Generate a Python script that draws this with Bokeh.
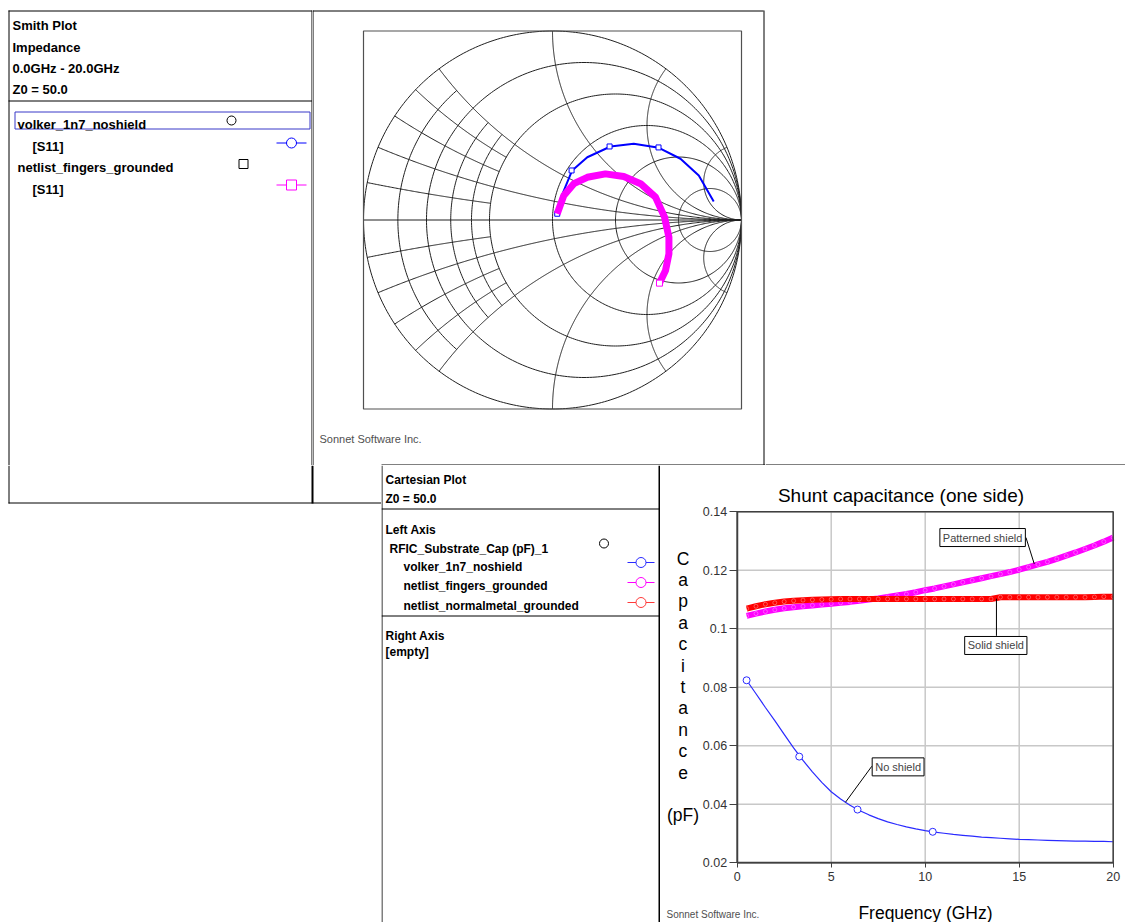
import numpy as np
from bokeh.plotting import figure
from bokeh.layouts import row, column
from bokeh.models import Range1d, Label, FixedTicker, PrintfTickFormatter, LinearAxis
from bokeh.embed import file_html
from bokeh.resources import INLINE
from bokeh.core.properties import value

# ---------------- data ----------------
smith_header = ["Smith Plot", "Impedance", "0.0GHz - 20.0GHz", "Z0 = 50.0"]
smith_files = ["volker_1n7_noshield", "netlist_fingers_grounded"]
smith_param = "[S11]"

s11_volker_re = [0.025, 0.042, 0.104, 0.184, 0.307, 0.430, 0.563, 0.677, 0.774, 0.853]
s11_volker_im = [0.033, 0.112, 0.262, 0.332, 0.389, 0.403, 0.382, 0.324, 0.235, 0.098]
s11_volker_mk_re = [0.025, 0.101, 0.302, 0.561]
s11_volker_mk_im = [0.033, 0.262, 0.389, 0.384]
s11_fingers_re = [0.025, 0.060, 0.113, 0.184, 0.280, 0.377, 0.466, 0.545, 0.593, 0.616, 0.616, 0.598, 0.566]
s11_fingers_im = [0.033, 0.130, 0.192, 0.226, 0.244, 0.230, 0.192, 0.121, 0.015, -0.091, -0.179, -0.267, -0.334]
s11_fingers_mk_re = [0.566]
s11_fingers_mk_im = [-0.334]

# Smith grid values
smith_r_full = [0.2, 0.5, 1.0, 2.0, 5.0]
smith_r_part = [0.1, 0.3, 0.4]
smith_x_full = [0.2, 0.5, 1.0, 2.0, 5.0]
smith_x_part = [0.1, 0.3, 0.4]

cart_header = ["Cartesian Plot", "Z0 = 50.0"]
cart_left = ["Left Axis", "RFIC_Substrate_Cap (pF)_1"]
cart_series = ["volker_1n7_noshield", "netlist_fingers_grounded", "netlist_normalmetal_grounded"]
cart_right = ["Right Axis", "[empty]"]
cart_title = "Shunt capacitance (one side)"
x_label = "Frequency (GHz)"
y_label_text = "C\na\np\na\nc\ni\nt\na\nn\nc\ne\n\n(pF)"

freq = [0.5, 1.0, 1.5, 2.0, 2.5, 3.0, 3.5, 4.0, 4.5, 5.0,
        5.5, 6.0, 6.5, 7.0, 7.5, 8.0, 8.5, 9.0, 9.5, 10.0,
        10.5, 11.0, 11.5, 12.0, 12.5, 13.0, 13.5, 14.0, 14.5, 15.0,
        15.5, 16.0, 16.5, 17.0, 17.5, 18.0, 18.5, 19.0, 19.5, 20.0]
cap_volker = [0.0824, 0.0778, 0.0731, 0.0686, 0.0639, 0.0593, 0.0550, 0.0511, 0.0475, 0.0443,
              0.0418, 0.0397, 0.0379, 0.0364, 0.0351, 0.0340, 0.0331, 0.0323, 0.0316, 0.0310,
              0.0305, 0.0301, 0.0297, 0.0294, 0.0291, 0.0288, 0.0286, 0.0284, 0.0282, 0.0280,
              0.0279, 0.0278, 0.0277, 0.0276, 0.0275, 0.0274, 0.0274, 0.0273, 0.0273, 0.0272]
cap_fingers = [0.1044, 0.1052, 0.1059, 0.1065, 0.1070, 0.1074, 0.1077, 0.1080, 0.1083, 0.1086,
               0.1089, 0.1092, 0.1096, 0.1100, 0.1104, 0.1109, 0.1114, 0.1119, 0.1125, 0.1132,
               0.1138, 0.1145, 0.1152, 0.1159, 0.1166, 0.1173, 0.1180, 0.1187, 0.1194, 0.1202,
               0.1211, 0.1220, 0.1229, 0.1239, 0.1250, 0.1261, 0.1273, 0.1285, 0.1298, 0.1312]
cap_normal = [0.1069, 0.1077, 0.1084, 0.1089, 0.1093, 0.1096, 0.1098, 0.1099, 0.1100, 0.1101,
              0.1102, 0.1102, 0.1102, 0.1102, 0.1102, 0.1102, 0.1102, 0.1102, 0.1102, 0.1102,
              0.1102, 0.1102, 0.1102, 0.1102, 0.1102, 0.1102, 0.1102, 0.1108, 0.1108, 0.1108,
              0.1108, 0.1108, 0.1108, 0.1108, 0.1108, 0.1108, 0.1108, 0.1109, 0.1110, 0.1110]
volker_mk_f = [0.5, 3.3, 6.4, 10.4]
volker_mk_c = [0.0824, 0.0563, 0.0382, 0.0306]

x_ticks = [0, 5, 10, 15, 20]
x_tick_labels = ["0", "5", "10", "15", "20"]
y_ticks = [0.02, 0.04, 0.06, 0.08, 0.10, 0.12, 0.14]
y_tick_labels = ["0.02", "0.04", "0.06", "0.08", "0.1", "0.12", "0.14"]

# callouts: text, box-left x, box-centre y, leader start, leader end (data units)
callout_text = ["Patterned shield", "Solid shield", "No shield"]
callout_x = [10.78, 12.1, 7.18]
callout_y = [0.1312, 0.0943, 0.0528]
leader_x0 = [15.36, 13.79, 7.16]
leader_y0 = [0.1312, 0.0976, 0.0530]
leader_x1 = [15.80, 13.79, 5.76]
leader_y1 = [0.1222, 0.1103, 0.0407]

BLUE = "#0000ff"
CBLUE = "#2a2aff"
MAG = "#ff00ff"
RED = "#ff0000"
LRED = "#ff3a3a"
FONT = value("Liberation Sans")

PAGE_W, PAGE_H = 1125, 922


def deco(x0, x1, y0, y1):
    p = figure(width=x1 - x0, height=y1 - y0, x_range=Range1d(x0, x1), y_range=Range1d(y1, y0),
               x_axis_location=None, y_axis_location=None, output_backend="svg",
               toolbar_location=None, min_border=0)
    p.outline_line_color = None
    p.grid.visible = False
    p.background_fill_color = "white"
    p.border_fill_color = "white"
    return p


def seg(p, x0, y0, x1, y1, w=1, color="black"):
    p.segment(x0=[x0], y0=[y0], x1=[x1], y1=[y1], line_color=color, line_width=w)


def txt(p, xs, ys, texts, size, bold=True, color="black"):
    p.text(x=xs, y=ys, text=texts, text_font=FONT, text_font_size=size,
           text_font_style="bold" if bold else "normal", text_color=color,
           text_baseline="alphabetic", text_align="left")


# ---------------- Smith legend (top part) ----------------
sl_top = deco(0, 312, 0, 465)
seg(sl_top, 8.5, 10, 8.5, 465)
seg(sl_top, 8, 10.5, 312, 10.5)
seg(sl_top, 311.5, 10, 311.5, 465)
seg(sl_top, 8, 100.5, 312, 100.5)
txt(sl_top, [12] * 4, [25, 47, 68, 89], smith_header, "13px")
sl_top.quad(left=[14.5], right=[309.5], top=[111.5], bottom=[128.5], fill_color=None,
            line_color="#3838c8", line_width=1)
txt(sl_top, [17, 32, 17, 32], [124, 146, 167, 189],
    [smith_files[0], smith_param, smith_files[1], smith_param], "13px")
sl_top.scatter([231], [120], marker="circle", size=9, fill_color="white", line_color="black")
sl_top.scatter([243], [163.5], marker="square", size=9, fill_color="white", line_color="black")
seg(sl_top, 276, 142.5, 306, 142.5, color=BLUE)
sl_top.scatter([291], [142.5], marker="circle", size=10, fill_color="white", line_color=BLUE)
seg(sl_top, 276, 184.5, 306, 184.5, color=MAG)
sl_top.scatter([291], [184.5], marker="square", size=10, fill_color="white", line_color=MAG)

# ---------------- Smith chart ----------------
SCX, SCY, SR = 552.0, 219.5, 189.0
sm = deco(312, 765, 0, 465)
sm.extra_x_ranges = {"gx": Range1d((312 - SCX) / SR, (765 - SCX) / SR)}
sm.extra_y_ranges = {"gy": Range1d((SCY - 465) / SR, (SCY - 0) / SR)}
seg(sm, 312.5, 10, 312.5, 465)
seg(sm, 312, 10.5, 763, 10.5)
seg(sm, 763.5, 10, 763.5, 465)
seg(sm, 381, 464.5, 765, 464.5)
txt(sm, [319], [438], ["Sonnet Software Inc."], "11px", bold=False, color="#505050")

gxs, gys = [], []
th = np.linspace(0, 2 * np.pi, 361)
for r in [0.0] + smith_r_full:
    c, rad = r / (1 + r), 1 / (1 + r)
    gxs.append(c + rad * np.cos(th))
    gys.append(rad * np.sin(th))
for r in smith_r_part:
    z = r + 1j * np.linspace(-0.5, 0.5, 120)
    g = (z - 1) / (z + 1)
    gxs.append(g.real)
    gys.append(g.imag)
rr_full = np.tan(np.linspace(0, np.pi / 2 - 1e-4, 400))
rr_part = np.linspace(0, 0.5, 120)
for xv in smith_x_full:
    for s in (1, -1):
        g = (rr_full + 1j * s * xv - 1) / (rr_full + 1j * s * xv + 1)
        gxs.append(g.real)
        gys.append(g.imag)
for xv in smith_x_part:
    for s in (1, -1):
        g = (rr_part + 1j * s * xv - 1) / (rr_part + 1j * s * xv + 1)
        gxs.append(g.real)
        gys.append(g.imag)
gxs.append(np.array([-1.0, 1.0]))
gys.append(np.array([0.0, 0.0]))
sm.multi_line(xs=[list(a) for a in gxs], ys=[list(a) for a in gys], line_color="#202020",
              line_width=1, x_range_name="gx", y_range_name="gy")
sm.quad(left=[-1.0], right=[1.0], bottom=[-1.0], top=[1.0], fill_color=None,
        line_color="#505050", line_width=1.2, x_range_name="gx", y_range_name="gy")
sm.line(s11_volker_re, s11_volker_im, line_color=BLUE, line_width=2,
        x_range_name="gx", y_range_name="gy")
sm.scatter(s11_volker_mk_re, s11_volker_mk_im, marker="square", size=5, fill_color="white",
           line_color=BLUE, x_range_name="gx", y_range_name="gy")
sm.line(s11_fingers_re, s11_fingers_im, line_color=MAG, line_width=7, line_join="round",
        x_range_name="gx", y_range_name="gy")
sm.scatter(s11_fingers_mk_re, s11_fingers_mk_im, marker="square", size=6, fill_color="white",
           line_color=MAG, x_range_name="gx", y_range_name="gy")

# ---------------- blank top-right ----------------
blank = deco(765, PAGE_W, 0, 465)
seg(blank, 765, 464.5, PAGE_W, 464.5)

# ---------------- Smith legend (bottom part) ----------------
sl_bot = deco(0, 381, 465, PAGE_H)
seg(sl_bot, 8.5, 465, 8.5, 503)
seg(sl_bot, 312, 465, 312, 503, w=2)
seg(sl_bot, 8, 502.5, 381, 502.5)

# ---------------- Cartesian legend ----------------
cl = deco(381, 660, 465, PAGE_H)
seg(cl, 381.5, 465, 381.5, PAGE_H)
seg(cl, 659, 465, 659, PAGE_H, w=2)
seg(cl, 381, 508.5, 659, 508.5)
seg(cl, 381, 615.5, 659, 615.5)
txt(cl, [385, 385], [479, 498], cart_header, "12px")
txt(cl, [385, 389], [529, 548], cart_left, "12px")
txt(cl, [403, 403, 403], [566, 585.5, 605.5], cart_series, "12px")
txt(cl, [385, 385], [635, 651], cart_right, "12px")
cl.scatter([603.5], [543], marker="circle", size=9, fill_color="white", line_color="black")
for yy, col in zip([562, 582, 602], [CBLUE, MAG, LRED]):
    seg(cl, 627, yy, 654, yy, color=col)
    cl.scatter([640.5], [yy], marker="circle", size=10, fill_color="white", line_color=col)

# ---------------- Cartesian plot ----------------
# pixel geometry of the plot box inside the page: x 0..20 -> 736.7..1112.7, y 0.02..0.14 -> 862.3..511.3
PX0, PXS = 736.7, 18.8
PY0, PYS = 862.3, 2925.0
CP_X0, CP_X1, CP_Y0, CP_Y1 = 660, PAGE_W, 465, PAGE_H
cp = figure(width=CP_X1 - CP_X0, height=CP_Y1 - CP_Y0,
            x_range=Range1d((CP_X0 - PX0) / PXS, (CP_X1 - PX0) / PXS),
            y_range=Range1d(0.02 - (CP_Y1 - PY0) / PYS, 0.02 + (PY0 - CP_Y0) / PYS),
            x_axis_location=None, y_axis_location=None, output_backend="svg",
            toolbar_location=None, min_border=0)
cp.outline_line_color = None
cp.background_fill_color = "white"
cp.border_fill_color = "white"
cp.grid.visible = False

xmin, xmax, ymin, ymax = x_ticks[0], x_ticks[-1], y_ticks[0], y_ticks[-1]
cp.segment(x0=x_ticks, y0=[ymin] * len(x_ticks), x1=x_ticks, y1=[ymax] * len(x_ticks),
           line_color="#c8c8c8", line_width=1.5)
cp.segment(x0=[xmin] * len(y_ticks), y0=y_ticks, x1=[xmax] * len(y_ticks), y1=y_ticks,
           line_color="#c8c8c8", line_width=1.5)

cp.line(freq, cap_volker, line_color=CBLUE, line_width=1.2)
cp.scatter(volker_mk_f, volker_mk_c, marker="circle", size=7, fill_color="white", line_color=CBLUE)
cp.line(freq, cap_fingers, line_color=MAG, line_width=6)
cp.scatter(freq, cap_fingers, marker="circle", size=4, fill_color=None, line_color="white",
           line_alpha=0.4, line_width=0.8)
cp.line(freq, cap_normal, line_color=RED, line_width=6)
cp.scatter(freq, cap_normal, marker="circle", size=4, fill_color=None, line_color="white",
           line_alpha=0.4, line_width=0.8)
cp.quad(left=[xmin], right=[xmax], bottom=[ymin], top=[ymax], fill_color=None,
        line_color="#404040", line_width=1.5)

xaxis = LinearAxis(fixed_location=ymin, bounds=(xmin, xmax), ticker=FixedTicker(ticks=x_ticks),
                   formatter=PrintfTickFormatter(format="%g"))
yaxis = LinearAxis(fixed_location=xmin, bounds=(ymin, ymax), ticker=FixedTicker(ticks=y_ticks),
                   formatter=PrintfTickFormatter(format="%g"))
xaxis.major_label_overrides = dict(zip(x_ticks, x_tick_labels))
yaxis.major_label_overrides = dict(zip(y_ticks, y_tick_labels))
for ax in (xaxis, yaxis):
    ax.axis_line_color = "#404040"
    ax.axis_line_width = 1.5
    ax.major_tick_line_color = "#404040"
    ax.major_tick_in = 0
    ax.minor_tick_line_color = None
    ax.major_label_text_font = "Liberation Sans"
    ax.major_label_text_font_size = "12.5px"
    ax.major_label_text_color = "#333333"
    ax.axis_label_text_font = "Liberation Sans"
    ax.axis_label_text_font_size = "17.5px"
    ax.axis_label_text_font_style = "normal"
    ax.axis_label_text_color = "black"
yaxis.major_tick_out = 8
yaxis.major_label_standoff = 2
xaxis.major_tick_out = 5
xaxis.major_label_standoff = 4
xaxis.axis_label = x_label
xaxis.axis_label_standoff = 19
cp.add_layout(xaxis, "below")
cp.add_layout(yaxis, "left")

# title, vertical y label and footer (data units, outside the plot box)
cp.text(x=[(900.5 - PX0) / PXS], y=[ymax + (511.3 - 495.3) / PYS], text=[cart_title],
        text_font=FONT, text_font_size="19px", text_align="center", text_baseline="alphabetic",
        text_color="black")
cp.text(x=[(682.5 - PX0) / PXS], y=[ymax - (686.5 - 511.3) / PYS], text=[y_label_text],
        text_font=FONT, text_font_size="17.5px", text_align="center", text_baseline="middle",
        text_line_height=1.07, text_color="black")
cp.text(x=[(666 - PX0) / PXS], y=[ymin - (914 - PY0) / PYS], text=["Sonnet Software Inc."],
        text_font=FONT, text_font_size="10px", text_align="left", text_baseline="alphabetic",
        text_color="#505050")

cp.segment(x0=leader_x0, y0=leader_y0, x1=leader_x1, y1=leader_y1, line_color="black", line_width=1)
for t, lx, ly in zip(callout_text, callout_x, callout_y):
    cp.add_layout(Label(x=lx, y=ly, text=t, text_font="Liberation Sans", text_font_size="11px",
                        text_align="left", text_baseline="middle", padding=3,
                        border_line_color="black", border_line_width=1,
                        background_fill_color="white"))

p = column(row(sl_top, sm, blank), row(sl_bot, cl, cp))
open("out.html", "w").write(file_html(p, INLINE))
